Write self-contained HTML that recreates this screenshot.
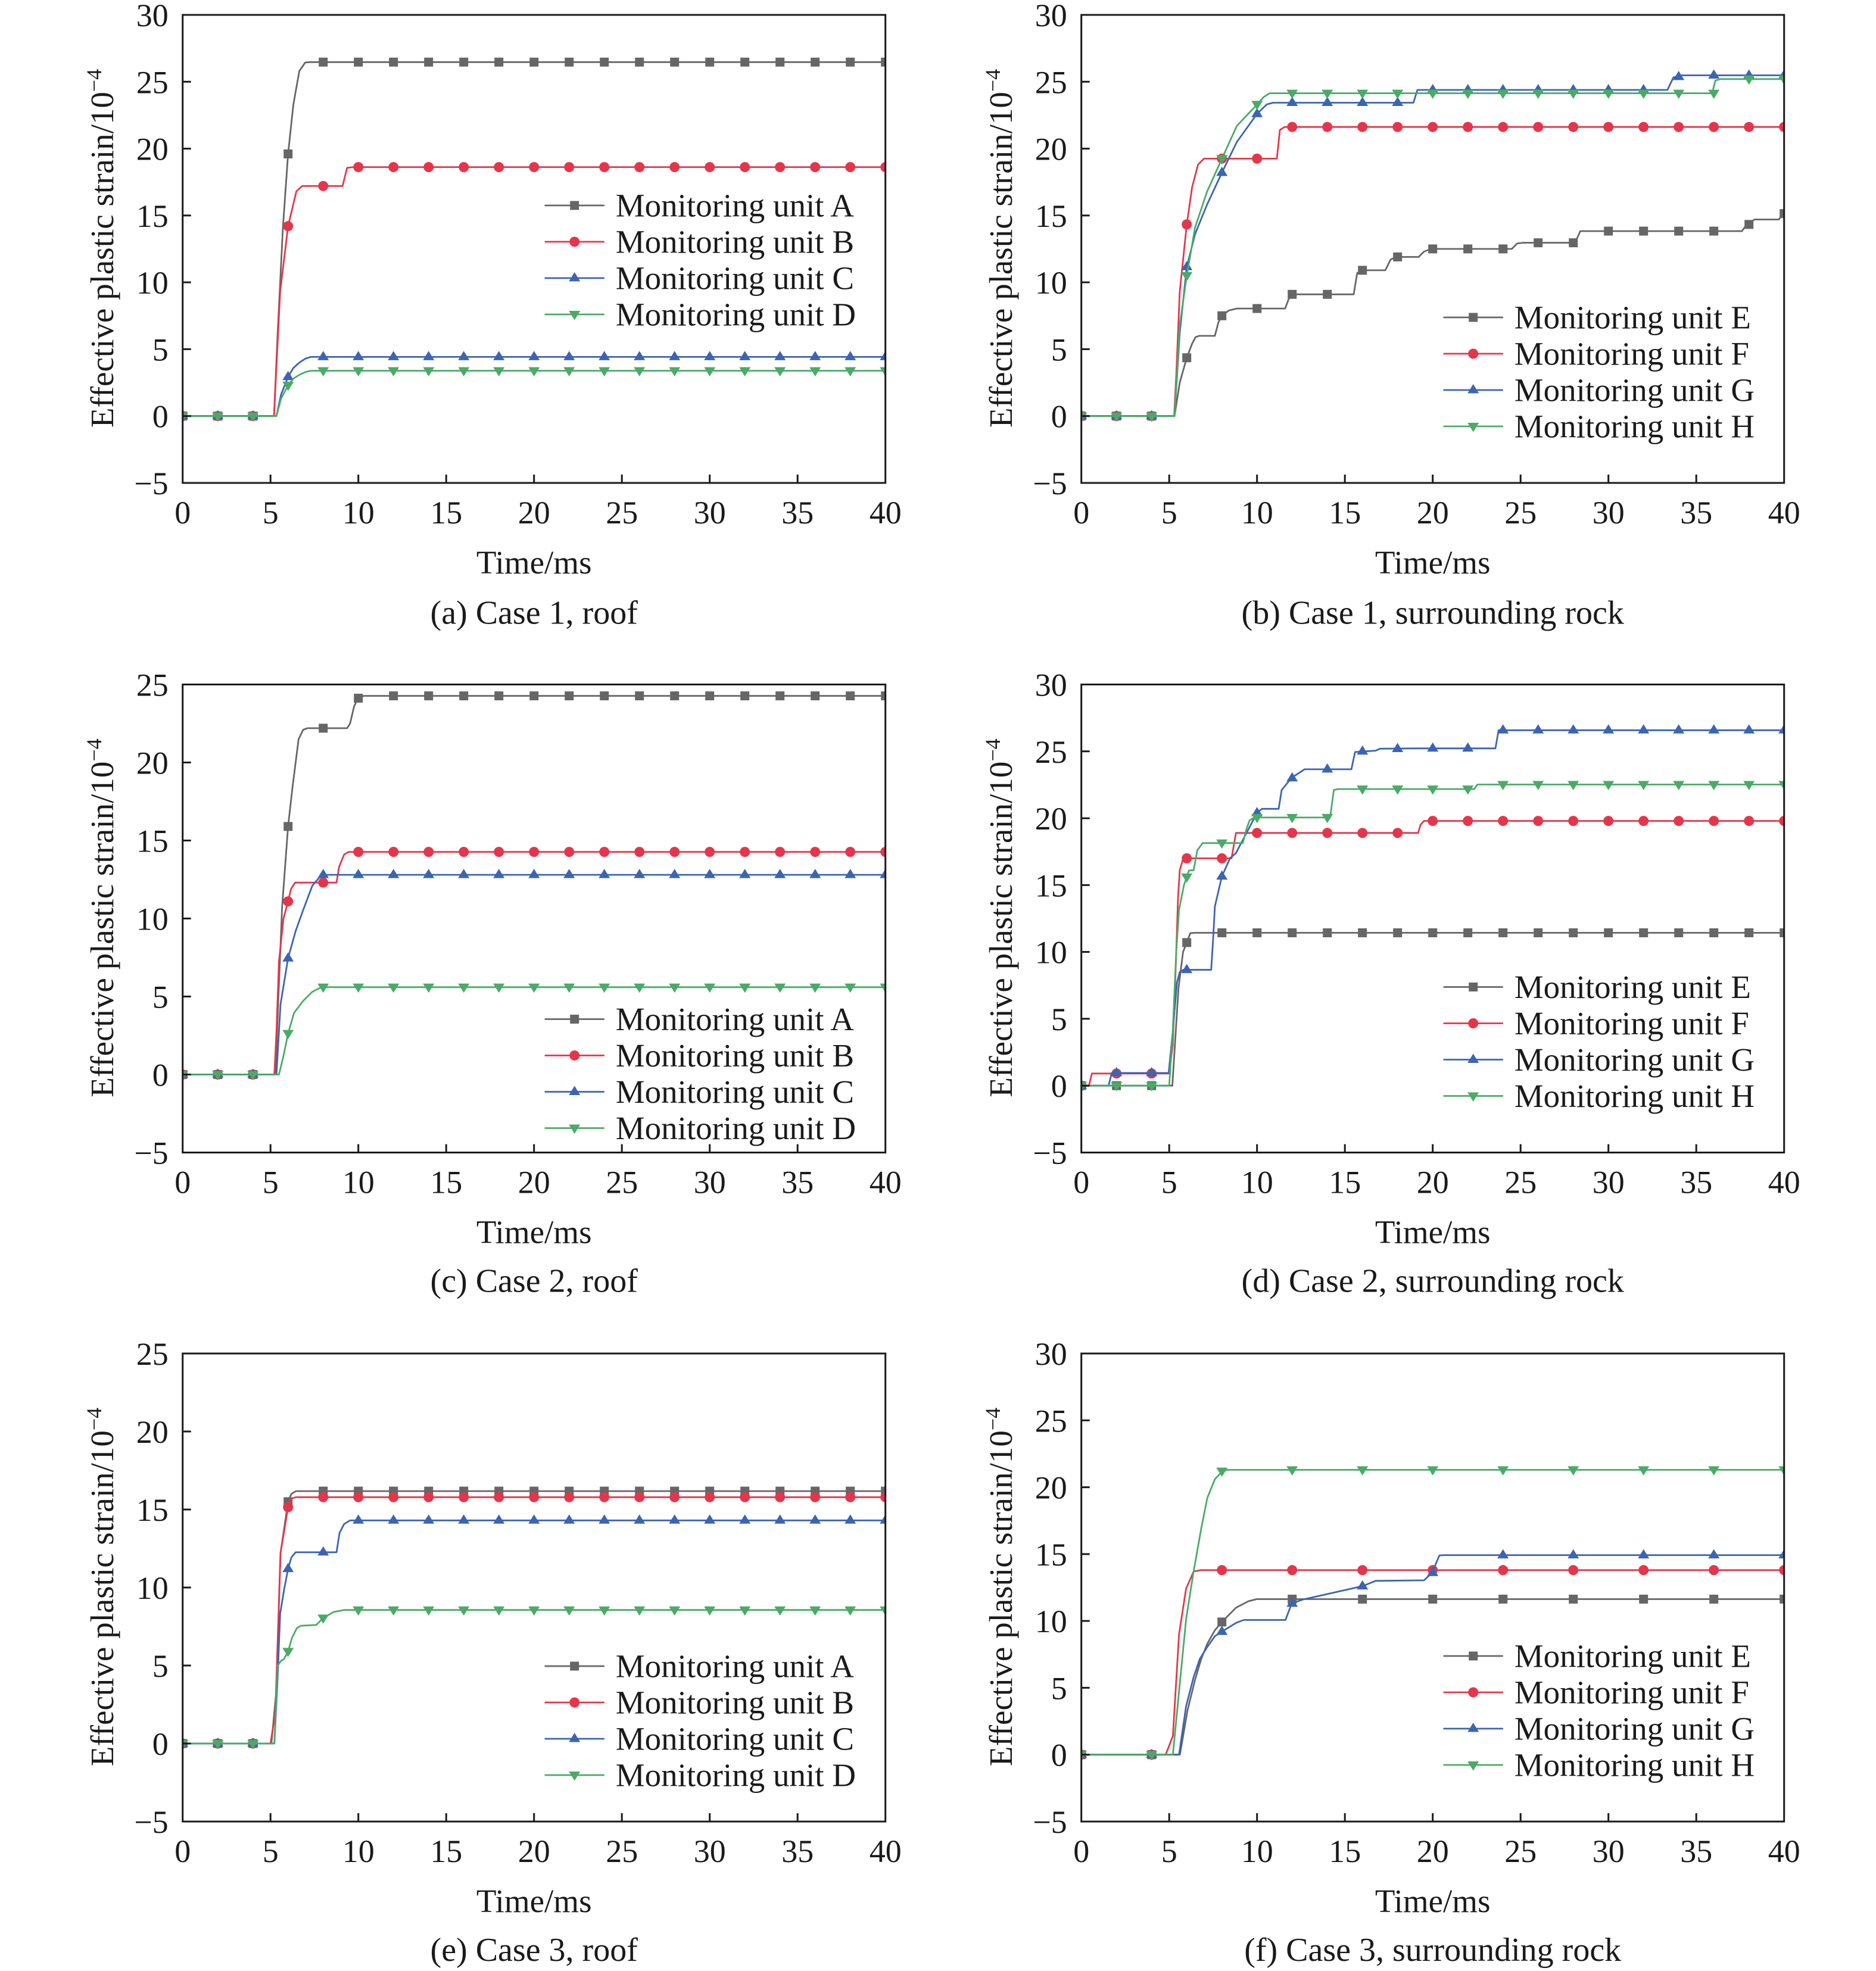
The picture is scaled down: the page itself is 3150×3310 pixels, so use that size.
<!DOCTYPE html>
<html>
<head>
<meta charset="utf-8">
<style>
  html,body{margin:0;padding:0;background:#fff;}
  svg{display:block;}
  text{font-family:"Liberation Serif","Times New Roman",serif;fill:#1a1a1a;}
  .tk{font-size:54px;}
  .yl{text-anchor:end;}
  .xl{text-anchor:middle;}
  .ttl{font-size:55px;text-anchor:middle;}
  .cap{font-size:56px;text-anchor:middle;}
  .lg{font-size:55px;}
  .ln{fill:none;stroke-width:2.8;stroke-linejoin:round;stroke-linecap:round;}
  .g{stroke:#666666;} .r{stroke:#e6354a;} .b{stroke:#3b64b4;} .gr{stroke:#4aab66;}
  .frame{fill:none;stroke:#1a1a1a;stroke-width:3;}
  .tick{fill:none;stroke:#1a1a1a;stroke-width:3;}
  .mk{fill:none;stroke:none;}
</style>
</head>
<body>
<svg width="3150" height="3310" viewBox="0 0 3150 3310" xmlns="http://www.w3.org/2000/svg">
<defs>
  <clipPath id="clip"><rect x="0" y="0" width="1180" height="786"/></clipPath>
  <marker id="mS" markerUnits="userSpaceOnUse" markerWidth="1" markerHeight="1" refX="0" refY="0" overflow="visible"><rect x="-7.5" y="-7.5" width="15" height="15" fill="#666666"/></marker>
  <marker id="mC" markerUnits="userSpaceOnUse" markerWidth="1" markerHeight="1" refX="0" refY="0" overflow="visible"><circle cx="0" cy="0" r="8.5" fill="#e6354a"/></marker>
  <marker id="mU" markerUnits="userSpaceOnUse" markerWidth="1" markerHeight="1" refX="0" refY="0" overflow="visible"><polygon points="0,-10 9.5,5.5 -9.5,5.5" fill="#3b64b4"/></marker>
  <marker id="mD" markerUnits="userSpaceOnUse" markerWidth="1" markerHeight="1" refX="0" refY="0" overflow="visible"><polygon points="-9.5,-6 9.5,-6 0,9.5" fill="#4aab66"/></marker>
</defs>

<!-- ================= Panel (a) ================= -->
<g transform="translate(306.7,25)">
  <g clip-path="url(#clip)">
    <polyline class="ln g" points="0,673.7 153.4,673.7 159.3,539 168.2,359.3 177,233.5 185.9,150.5 195.9,94.3 205.9,79.9 215.4,79.3 1180,79.3"/>
    <polyline class="mk" marker-start="url(#mS)" marker-mid="url(#mS)" marker-end="url(#mS)" points="0,673.7 59,673.7 118,673.7 177,233.5 236,79.3 295,79.3 354,79.3 413,79.3 472,79.3 531,79.3 590,79.3 649,79.3 708,79.3 767,79.3 826,79.3 885,79.3 944,79.3 1003,79.3 1062,79.3 1121,79.3 1180,79.3"/>
    <polyline class="ln r" points="0,673.7 153.4,673.7 157.8,583.9 163.7,464.9 177,354.8 190.9,296.4 200.6,287.4 268.5,287.4 276.1,256.9 286.2,255.6 1180,255.6"/>
    <polyline class="mk" marker-start="url(#mC)" marker-mid="url(#mC)" marker-end="url(#mC)" points="0,673.7 59,673.7 118,673.7 177,354.8 236,287.4 295,255.6 354,255.6 413,255.6 472,255.6 531,255.6 590,255.6 649,255.6 708,255.6 767,255.6 826,255.6 885,255.6 944,255.6 1003,255.6 1062,255.6 1121,255.6 1180,255.6"/>
    <polyline class="ln b" points="0,673.7 157.5,673.7 165.2,637.8 177,607.9 185.9,592.9 195.9,583.9 206.5,577.1 215.4,574.4 1180,574.4"/>
    <polyline class="mk" marker-start="url(#mU)" marker-mid="url(#mU)" marker-end="url(#mU)" points="0,673.7 59,673.7 118,673.7 177,607.9 236,574.4 295,574.4 354,574.4 413,574.4 472,574.4 531,574.4 590,574.4 649,574.4 708,574.4 767,574.4 826,574.4 885,574.4 944,574.4 1003,574.4 1062,574.4 1121,574.4 1180,574.4"/>
    <polyline class="ln gr" points="0,673.7 157.5,673.7 165.2,644.5 177,622 185.9,610.8 195.9,604.5 206.5,599.6 215.4,597.6 1180,597.6"/>
    <polyline class="mk" marker-start="url(#mD)" marker-mid="url(#mD)" marker-end="url(#mD)" points="0,673.7 59,673.7 118,673.7 177,622 236,597.6 295,597.6 354,597.6 413,597.6 472,597.6 531,597.6 590,597.6 649,597.6 708,597.6 767,597.6 826,597.6 885,597.6 944,597.6 1003,597.6 1062,597.6 1121,597.6 1180,597.6"/>
  </g>
  <rect class="frame" x="0" y="0" width="1180" height="786"/>
  <path class="tick" d="M0,112.3h14M0,224.6h14M0,336.9h14M0,449.1h14M0,561.4h14M0,673.7h14M147.5,786v-14M295,786v-14M442.5,786v-14M590,786v-14M737.5,786v-14M885,786v-14M1032.5,786v-14"/>
  <g class="tk yl">
    <text x="-24" y="19">30</text><text x="-24" y="131.3">25</text><text x="-24" y="243.6">20</text><text x="-24" y="355.9">15</text><text x="-24" y="468.1">10</text><text x="-24" y="580.4">5</text><text x="-24" y="692.7">0</text><text x="-24" y="805">−5</text>
  </g>
  <g class="tk xl">
    <text x="0" y="854">0</text><text x="147.5" y="854">5</text><text x="295" y="854">10</text><text x="442.5" y="854">15</text><text x="590" y="854">20</text><text x="737.5" y="854">25</text><text x="885" y="854">30</text><text x="1032.5" y="854">35</text><text x="1180" y="854">40</text>
  </g>
  <text class="ttl" x="590" y="938">Time/ms</text>
  <text class="cap" x="590" y="1022.5">(a) Case 1, roof</text>
  <text class="ttl" transform="translate(-116.7,392) rotate(-90)">Effective plastic strain/10<tspan font-size="36" dy="-20">−4</tspan></text>
  <g>
    <line x1="609" y1="320" x2="707" y2="320" class="ln g"/><rect x="650.5" y="312.5" width="15" height="15" fill="#666666"/>
    <text class="lg" x="727" y="338.5">Monitoring unit A</text>
    <line x1="609" y1="381" x2="707" y2="381" class="ln r"/><circle cx="658" cy="381" r="8.5" fill="#e6354a"/>
    <text class="lg" x="727" y="399.5">Monitoring unit B</text>
    <line x1="609" y1="442" x2="707" y2="442" class="ln b"/><polygon transform="translate(658,442)" points="0,-10 9.5,5.5 -9.5,5.5" fill="#3b64b4"/>
    <text class="lg" x="727" y="460.5">Monitoring unit C</text>
    <line x1="609" y1="503" x2="707" y2="503" class="ln gr"/><polygon transform="translate(658,503)" points="-9.5,-6 9.5,-6 0,9.5" fill="#4aab66"/>
    <text class="lg" x="727" y="521.5">Monitoring unit D</text>
  </g>
</g>

<!-- ================= Panel (b) ================= -->
<g transform="translate(1815.7,25)">
  <g clip-path="url(#clip)">
    <polyline class="ln g" points="0,673.7 156.4,673.7 165.2,617.6 177,575.8 185.9,552.4 191.8,541.2 197.7,539 224.2,539 230.1,516.5 236,505.3 247.8,496.3 261.1,493.1 342.2,493.1 351.1,469.3 457.3,469.3 463.2,433.4 472,428.9 510.4,428.9 519.2,411 528.1,406.5 566.4,406.5 575.3,397.5 587.1,393 722.8,393 731.6,384 740.5,382.7 829,382.7 837.8,363.1 1109.2,363.1 1115.1,354.8 1121,351.9 1129.9,343.6 1171.2,343.6 1177.1,334.6 1180,333.7"/>
    <polyline class="mk" marker-start="url(#mS)" marker-mid="url(#mS)" marker-end="url(#mS)" points="0,673.7 59,673.7 118,673.7 177,575.8 236,505.3 295,493.1 354,469.3 413,469.3 472,428.9 531,406.5 590,393 649,393 708,393 767,382.7 826,382.7 885,363.1 944,363.1 1003,363.1 1062,363.1 1121,351.9 1180,333.7"/>
    <polyline class="ln r" points="0,673.7 155.8,673.7 159.3,606.3 165.2,464.9 177,351.9 185.9,289.7 195.9,251.5 205.9,241.4 328.3,241.4 333.4,193.1 341.3,188.2 1180,188.2"/>
    <polyline class="mk" marker-start="url(#mC)" marker-mid="url(#mC)" marker-end="url(#mC)" points="0,673.7 59,673.7 118,673.7 177,351.9 236,241.4 295,241.4 354,188.2 413,188.2 472,188.2 531,188.2 590,188.2 649,188.2 708,188.2 767,188.2 826,188.2 885,188.2 944,188.2 1003,188.2 1062,188.2 1121,188.2 1180,188.2"/>
    <polyline class="ln b" points="0,673.7 156.4,673.7 165.2,534.5 177,423.3 190.9,368.3 210.9,318.9 236,265 261.1,213.3 295,166.2 311.2,150.4 321.6,147.5 557.6,147.5 564.3,126 984.1,126 994.2,104.9 1008.9,101.5 1180,101.5"/>
    <polyline class="mk" marker-start="url(#mU)" marker-mid="url(#mU)" marker-end="url(#mU)" points="0,673.7 59,673.7 118,673.7 177,423.3 236,265 295,166.2 354,147.5 413,147.5 472,147.5 531,147.5 590,126 649,126 708,126 767,126 826,126 885,126 944,126 1003,104 1062,101.5 1121,101.5 1180,101.5"/>
    <polyline class="ln gr" points="0,673.7 156.4,673.7 165.2,521 177,437.9 190.9,357.1 210.9,297.3 236,241.4 261.1,186.4 295,150.4 306.2,137.9 316.2,131.6 1059.1,131.6 1064.7,110 1073.8,107.8 1180,107.8"/>
    <polyline class="mk" marker-start="url(#mD)" marker-mid="url(#mD)" marker-end="url(#mD)" points="0,673.7 59,673.7 118,673.7 177,437.9 236,241.4 295,150.4 354,131.6 413,131.6 472,131.6 531,131.6 590,131.6 649,131.6 708,131.6 767,131.6 826,131.6 885,131.6 944,131.6 1003,131.6 1062,131.6 1121,107.8 1180,107.8"/>
  </g>
  <rect class="frame" x="0" y="0" width="1180" height="786"/>
  <path class="tick" d="M0,112.3h14M0,224.6h14M0,336.9h14M0,449.1h14M0,561.4h14M0,673.7h14M147.5,786v-14M295,786v-14M442.5,786v-14M590,786v-14M737.5,786v-14M885,786v-14M1032.5,786v-14"/>
  <g class="tk yl">
    <text x="-24" y="19">30</text><text x="-24" y="131.3">25</text><text x="-24" y="243.6">20</text><text x="-24" y="355.9">15</text><text x="-24" y="468.1">10</text><text x="-24" y="580.4">5</text><text x="-24" y="692.7">0</text><text x="-24" y="805">−5</text>
  </g>
  <g class="tk xl">
    <text x="0" y="854">0</text><text x="147.5" y="854">5</text><text x="295" y="854">10</text><text x="442.5" y="854">15</text><text x="590" y="854">20</text><text x="737.5" y="854">25</text><text x="885" y="854">30</text><text x="1032.5" y="854">35</text><text x="1180" y="854">40</text>
  </g>
  <text class="ttl" x="590" y="938">Time/ms</text>
  <text class="cap" x="590" y="1022.5">(b) Case 1, surrounding rock</text>
  <text class="ttl" transform="translate(-116.7,392) rotate(-90)">Effective plastic strain/10<tspan font-size="36" dy="-20">−4</tspan></text>
  <g>
    <line x1="609" y1="508" x2="707" y2="508" class="ln g"/><rect x="650.5" y="500.5" width="15" height="15" fill="#666666"/>
    <text class="lg" x="727" y="526.5">Monitoring unit E</text>
    <line x1="609" y1="569" x2="707" y2="569" class="ln r"/><circle cx="658" cy="569" r="8.5" fill="#e6354a"/>
    <text class="lg" x="727" y="587.5">Monitoring unit F</text>
    <line x1="609" y1="630" x2="707" y2="630" class="ln b"/><polygon transform="translate(658,630)" points="0,-10 9.5,5.5 -9.5,5.5" fill="#3b64b4"/>
    <text class="lg" x="727" y="648.5">Monitoring unit G</text>
    <line x1="609" y1="691" x2="707" y2="691" class="ln gr"/><polygon transform="translate(658,691)" points="-9.5,-6 9.5,-6 0,9.5" fill="#4aab66"/>
    <text class="lg" x="727" y="709.5">Monitoring unit H</text>
  </g>
</g>

<!-- ================= Panel (c) ================= -->
<g transform="translate(306.7,1149.5)">
  <g clip-path="url(#clip)">
    <polyline class="ln g" points="0,655 155.8,655 160.8,524 167,373.4 177,238.4 184.7,170.3 194.7,91.7 202.4,76 209.5,73.4 276.1,73.4 281.1,65.5 287.9,36.7 294.1,23.6 304.1,19.1 1180,19.1"/>
    <polyline class="mk" marker-start="url(#mS)" marker-mid="url(#mS)" marker-end="url(#mS)" points="0,655 59,655 118,655 177,238.4 236,73.4 295,23 354,19.1 413,19.1 472,19.1 531,19.1 590,19.1 649,19.1 708,19.1 767,19.1 826,19.1 885,19.1 944,19.1 1003,19.1 1062,19.1 1121,19.1 1180,19.1"/>
    <polyline class="ln r" points="0,655 154,655 157.8,576.4 161.7,465.1 169.3,393 177,364.2 182,343.2 188.8,332.7 258.4,332.7 262.6,306.5 271.1,285.6 278.8,281.1 1180,281.1"/>
    <polyline class="mk" marker-start="url(#mC)" marker-mid="url(#mC)" marker-end="url(#mC)" points="0,655 59,655 118,655 177,364.2 236,332.7 295,281.1 354,281.1 413,281.1 472,281.1 531,281.1 590,281.1 649,281.1 708,281.1 767,281.1 826,281.1 885,281.1 944,281.1 1003,281.1 1062,281.1 1121,281.1 1180,281.1"/>
    <polyline class="ln b" points="0,655 157.5,655 164.3,537.1 177,459.8 189.7,414 202.4,378.6 217.7,338 233.1,319.6 1180,319.6"/>
    <polyline class="mk" marker-start="url(#mU)" marker-mid="url(#mU)" marker-end="url(#mU)" points="0,655 59,655 118,655 177,459.8 236,319.6 295,319.6 354,319.6 413,319.6 472,319.6 531,319.6 590,319.6 649,319.6 708,319.6 767,319.6 826,319.6 885,319.6 944,319.6 1003,319.6 1062,319.6 1121,319.6 1180,319.6"/>
    <polyline class="ln gr" points="0,655 161.7,655 169.3,623.6 177,586.1 187,551.5 202.4,531.3 217.7,516.1 233.1,508.3 1180,508.3"/>
    <polyline class="mk" marker-start="url(#mD)" marker-mid="url(#mD)" marker-end="url(#mD)" points="0,655 59,655 118,655 177,586.1 236,508.3 295,508.3 354,508.3 413,508.3 472,508.3 531,508.3 590,508.3 649,508.3 708,508.3 767,508.3 826,508.3 885,508.3 944,508.3 1003,508.3 1062,508.3 1121,508.3 1180,508.3"/>
  </g>
  <rect class="frame" x="0" y="0" width="1180" height="786"/>
  <path class="tick" d="M0,131h14M0,262h14M0,393h14M0,524h14M0,655h14M147.5,786v-14M295,786v-14M442.5,786v-14M590,786v-14M737.5,786v-14M885,786v-14M1032.5,786v-14"/>
  <g class="tk yl">
    <text x="-24" y="19">25</text><text x="-24" y="150">20</text><text x="-24" y="281">15</text><text x="-24" y="412">10</text><text x="-24" y="543">5</text><text x="-24" y="674">0</text><text x="-24" y="805">−5</text>
  </g>
  <g class="tk xl">
    <text x="0" y="854">0</text><text x="147.5" y="854">5</text><text x="295" y="854">10</text><text x="442.5" y="854">15</text><text x="590" y="854">20</text><text x="737.5" y="854">25</text><text x="885" y="854">30</text><text x="1032.5" y="854">35</text><text x="1180" y="854">40</text>
  </g>
  <text class="ttl" x="590" y="938">Time/ms</text>
  <text class="cap" x="590" y="1020">(c) Case 2, roof</text>
  <text class="ttl" transform="translate(-116.7,392) rotate(-90)">Effective plastic strain/10<tspan font-size="36" dy="-20">−4</tspan></text>
  <g>
    <line x1="609" y1="562" x2="707" y2="562" class="ln g"/><rect x="650.5" y="554.5" width="15" height="15" fill="#666666"/>
    <text class="lg" x="727" y="580.5">Monitoring unit A</text>
    <line x1="609" y1="623" x2="707" y2="623" class="ln r"/><circle cx="658" cy="623" r="8.5" fill="#e6354a"/>
    <text class="lg" x="727" y="641.5">Monitoring unit B</text>
    <line x1="609" y1="684" x2="707" y2="684" class="ln b"/><polygon transform="translate(658,684)" points="0,-10 9.5,5.5 -9.5,5.5" fill="#3b64b4"/>
    <text class="lg" x="727" y="702.5">Monitoring unit C</text>
    <line x1="609" y1="745" x2="707" y2="745" class="ln gr"/><polygon transform="translate(658,745)" points="-9.5,-6 9.5,-6 0,9.5" fill="#4aab66"/>
    <text class="lg" x="727" y="763.5">Monitoring unit D</text>
  </g>
</g>

<!-- ================= Panel (d) ================= -->
<g transform="translate(1815.7,1149.5)">
  <g clip-path="url(#clip)">
    <polyline class="ln g" points="0,673.7 152.8,673.7 163.1,509.8 170.8,449.1 177,433.4 182.9,417.7 188.8,417 1180,417"/>
    <polyline class="mk" marker-start="url(#mS)" marker-mid="url(#mS)" marker-end="url(#mS)" points="0,673.7 59,673.7 118,673.7 177,433.4 236,417 295,417 354,417 413,417 472,417 531,417 590,417 649,417 708,417 767,417 826,417 885,417 944,417 1003,417 1062,417 1121,417 1180,417"/>
    <polyline class="ln r" points="0,673.7 12.7,673.7 17.7,653.3 147.5,653.3 153.4,606.3 157.8,494 162.3,359.3 165.2,312.1 171.1,291.9 252.2,291.9 259.6,249.3 565.5,249.3 569.4,235.8 575.3,229.1 1180,229.1"/>
    <polyline class="mk" marker-start="url(#mC)" marker-mid="url(#mC)" marker-end="url(#mC)" points="0,673.7 59,653.3 118,653.3 177,291.9 236,291.9 295,249.3 354,249.3 413,249.3 472,249.3 531,249.3 590,229.1 649,229.1 708,229.1 767,229.1 826,229.1 885,229.1 944,229.1 1003,229.1 1062,229.1 1121,229.1 1180,229.1"/>
    <polyline class="ln b" points="0,673.7 45.7,673.7 51,652.4 146.6,652.4 153.4,583.9 160.5,500.8 165.2,482.8 171.1,479.2 218,479.2 221.3,426.7 224.2,372.8 236,322.2 249.6,291.9 259.6,283 295,215.6 303.3,208.8 331.3,208.8 336.3,177.4 352.5,157.2 374.7,142.4 453.4,142.4 459.6,113.4 494.1,111.1 501.5,107.8 560.5,107.3 695.3,107.3 700.6,76.8 1180,76.8"/>
    <polyline class="mk" marker-start="url(#mU)" marker-mid="url(#mU)" marker-end="url(#mU)" points="0,673.7 59,652.4 118,652.4 177,479.2 236,322.2 295,215.6 354,157.2 413,142.4 472,112.3 531,108 590,107.3 649,107.3 708,76.8 767,76.8 826,76.8 885,76.8 944,76.8 1003,76.8 1062,76.8 1121,76.8 1180,76.8"/>
    <polyline class="ln gr" points="0,673.7 147.5,673.7 153.4,583.9 159.3,449.1 164,378.4 172.3,336.8 177,323.4 180.8,312.1 188.5,312.1 194.7,278.5 203.6,266.3 271.1,266.3 277.3,242.5 282.6,228 290.3,223.4 417.7,223.4 423.9,177.4 430.7,175.6 659.9,175.6 664.9,168 1180,168"/>
    <polyline class="mk" marker-start="url(#mD)" marker-mid="url(#mD)" marker-end="url(#mD)" points="0,673.7 59,673.7 118,673.7 177,323.4 236,266.3 295,223.4 354,223.4 413,223.4 472,175.6 531,175.6 590,175.6 649,175.6 708,168 767,168 826,168 885,168 944,168 1003,168 1062,168 1121,168 1180,168"/>
  </g>
  <rect class="frame" x="0" y="0" width="1180" height="786"/>
  <path class="tick" d="M0,112.3h14M0,224.6h14M0,336.9h14M0,449.1h14M0,561.4h14M0,673.7h14M147.5,786v-14M295,786v-14M442.5,786v-14M590,786v-14M737.5,786v-14M885,786v-14M1032.5,786v-14"/>
  <g class="tk yl">
    <text x="-24" y="19">30</text><text x="-24" y="131.3">25</text><text x="-24" y="243.6">20</text><text x="-24" y="355.9">15</text><text x="-24" y="468.1">10</text><text x="-24" y="580.4">5</text><text x="-24" y="692.7">0</text><text x="-24" y="805">−5</text>
  </g>
  <g class="tk xl">
    <text x="0" y="854">0</text><text x="147.5" y="854">5</text><text x="295" y="854">10</text><text x="442.5" y="854">15</text><text x="590" y="854">20</text><text x="737.5" y="854">25</text><text x="885" y="854">30</text><text x="1032.5" y="854">35</text><text x="1180" y="854">40</text>
  </g>
  <text class="ttl" x="590" y="938">Time/ms</text>
  <text class="cap" x="590" y="1020">(d) Case 2, surrounding rock</text>
  <text class="ttl" transform="translate(-116.7,392) rotate(-90)">Effective plastic strain/10<tspan font-size="36" dy="-20">−4</tspan></text>
  <g>
    <line x1="609" y1="508" x2="707" y2="508" class="ln g"/><rect x="650.5" y="500.5" width="15" height="15" fill="#666666"/>
    <text class="lg" x="727" y="526.5">Monitoring unit E</text>
    <line x1="609" y1="569" x2="707" y2="569" class="ln r"/><circle cx="658" cy="569" r="8.5" fill="#e6354a"/>
    <text class="lg" x="727" y="587.5">Monitoring unit F</text>
    <line x1="609" y1="630" x2="707" y2="630" class="ln b"/><polygon transform="translate(658,630)" points="0,-10 9.5,5.5 -9.5,5.5" fill="#3b64b4"/>
    <text class="lg" x="727" y="648.5">Monitoring unit G</text>
    <line x1="609" y1="691" x2="707" y2="691" class="ln gr"/><polygon transform="translate(658,691)" points="-9.5,-6 9.5,-6 0,9.5" fill="#4aab66"/>
    <text class="lg" x="727" y="709.5">Monitoring unit H</text>
  </g>
</g>

<!-- ================= Panel (e) ================= -->
<g transform="translate(306.7,2273)">
  <g clip-path="url(#clip)">
    <polyline class="ln g" points="0,655 149,655 156.6,573.8 164.3,335.4 177,248.9 182.6,235.8 190.3,231.1 1180,231.1"/>
    <polyline class="mk" marker-start="url(#mS)" marker-mid="url(#mS)" marker-end="url(#mS)" points="0,655 59,655 118,655 177,248.9 236,231.1 295,231.1 354,231.1 413,231.1 472,231.1 531,231.1 590,231.1 649,231.1 708,231.1 767,231.1 826,231.1 885,231.1 944,231.1 1003,231.1 1062,231.1 1121,231.1 1180,231.1"/>
    <polyline class="ln r" points="0,655 147.5,655 156.1,600 164.3,335.4 177,258.1 182.6,243.7 190.3,241.3 1180,241.3"/>
    <polyline class="mk" marker-start="url(#mC)" marker-mid="url(#mC)" marker-end="url(#mC)" points="0,655 59,655 118,655 177,258.1 236,241.3 295,241.3 354,241.3 413,241.3 472,241.3 531,241.3 590,241.3 649,241.3 708,241.3 767,241.3 826,241.3 885,241.3 944,241.3 1003,241.3 1062,241.3 1121,241.3 1180,241.3"/>
    <polyline class="ln b" points="0,655 154,655 159.3,548.9 163.7,436.8 170.5,395.6 177,361.6 182.6,342.4 189.7,333.8 258.4,333.8 263.4,301.3 271.1,286.4 281.1,280.3 1180,280.3"/>
    <polyline class="mk" marker-start="url(#mU)" marker-mid="url(#mU)" marker-end="url(#mU)" points="0,655 59,655 118,655 177,361.6 236,333.8 295,280.3 354,280.3 413,280.3 472,280.3 531,280.3 590,280.3 649,280.3 708,280.3 767,280.3 826,280.3 885,280.3 944,280.3 1003,280.3 1062,280.3 1121,280.3 1180,280.3"/>
    <polyline class="ln gr" points="0,655 154,655 159.6,524 165.2,516.1 169.9,513.3 177,500.4 183.5,477.6 191.8,461.1 198.8,457.2 224.2,455.9 236,444.4 253.4,434.1 271.1,430.7 1180,430.7"/>
    <polyline class="mk" marker-start="url(#mD)" marker-mid="url(#mD)" marker-end="url(#mD)" points="0,655 59,655 118,655 177,500.4 236,444.4 295,430.7 354,430.7 413,430.7 472,430.7 531,430.7 590,430.7 649,430.7 708,430.7 767,430.7 826,430.7 885,430.7 944,430.7 1003,430.7 1062,430.7 1121,430.7 1180,430.7"/>
  </g>
  <rect class="frame" x="0" y="0" width="1180" height="786"/>
  <path class="tick" d="M0,131h14M0,262h14M0,393h14M0,524h14M0,655h14M147.5,786v-14M295,786v-14M442.5,786v-14M590,786v-14M737.5,786v-14M885,786v-14M1032.5,786v-14"/>
  <g class="tk yl">
    <text x="-24" y="19">25</text><text x="-24" y="150">20</text><text x="-24" y="281">15</text><text x="-24" y="412">10</text><text x="-24" y="543">5</text><text x="-24" y="674">0</text><text x="-24" y="805">−5</text>
  </g>
  <g class="tk xl">
    <text x="0" y="854">0</text><text x="147.5" y="854">5</text><text x="295" y="854">10</text><text x="442.5" y="854">15</text><text x="590" y="854">20</text><text x="737.5" y="854">25</text><text x="885" y="854">30</text><text x="1032.5" y="854">35</text><text x="1180" y="854">40</text>
  </g>
  <text class="ttl" x="590" y="938">Time/ms</text>
  <text class="cap" x="590" y="1020">(e) Case 3, roof</text>
  <text class="ttl" transform="translate(-116.7,392) rotate(-90)">Effective plastic strain/10<tspan font-size="36" dy="-20">−4</tspan></text>
  <g>
    <line x1="609" y1="525" x2="707" y2="525" class="ln g"/><rect x="650.5" y="517.5" width="15" height="15" fill="#666666"/>
    <text class="lg" x="727" y="543.5">Monitoring unit A</text>
    <line x1="609" y1="586" x2="707" y2="586" class="ln r"/><circle cx="658" cy="586" r="8.5" fill="#e6354a"/>
    <text class="lg" x="727" y="604.5">Monitoring unit B</text>
    <line x1="609" y1="647" x2="707" y2="647" class="ln b"/><polygon transform="translate(658,647)" points="0,-10 9.5,5.5 -9.5,5.5" fill="#3b64b4"/>
    <text class="lg" x="727" y="665.5">Monitoring unit C</text>
    <line x1="609" y1="708" x2="707" y2="708" class="ln gr"/><polygon transform="translate(658,708)" points="-9.5,-6 9.5,-6 0,9.5" fill="#4aab66"/>
    <text class="lg" x="727" y="726.5">Monitoring unit D</text>
  </g>
</g>

<!-- ================= Panel (f) ================= -->
<g transform="translate(1815.7,2273)">
  <g clip-path="url(#clip)">
    <polyline class="ln g" points="0,673.7 165.5,673.7 178.2,599.6 190.9,547.9 201.2,513.1 211.5,487.3 224.2,464.8 236,450.9 259.9,426.7 280.3,416.1 294.4,412.5 1180,412.5"/>
    <polyline class="mk" marker-start="url(#mS)" marker-mid="url(#mS)" marker-end="url(#mS)" points="0,673.7 118,673.7 236,450.9 354,412.5 472,412.5 590,412.5 708,412.5 826,412.5 944,412.5 1062,412.5 1180,412.5"/>
    <polyline class="ln r" points="0,673.7 141.6,673.7 153.7,642.3 164,471.6 175.8,395.2 188.5,366 201.2,363.8 1180,363.8"/>
    <polyline class="mk" marker-start="url(#mC)" marker-mid="url(#mC)" marker-end="url(#mC)" points="0,673.7 118,673.7 236,363.8 354,363.8 472,363.8 590,363.8 708,363.8 826,363.8 944,363.8 1062,363.8 1180,363.8"/>
    <polyline class="ln b" points="0,673.7 164,673.7 175.8,592.9 188.5,543.4 198.8,513.1 211.5,492.7 224.2,474.7 236,467.1 259.9,452.3 272.6,447.5 342.8,447.5 353.1,419.9 371.7,413.2 472,390.7 494.1,381.8 575.5,380.9 588.8,368.3 601.2,339.1 607.7,338.6 1180,338.6"/>
    <polyline class="mk" marker-start="url(#mU)" marker-mid="url(#mU)" marker-end="url(#mU)" points="0,673.7 118,673.7 236,467.1 354,419.9 472,390.7 590,368.3 708,338.6 826,338.6 944,338.6 1062,338.6 1180,338.6"/>
    <polyline class="ln gr" points="0,673.7 153.7,673.7 175.8,446.9 188.5,366 201.2,294.2 211.5,242.5 224.2,211.1 236.9,197.6 244.9,195.4 1180,195.4"/>
    <polyline class="mk" marker-start="url(#mD)" marker-mid="url(#mD)" marker-end="url(#mD)" points="0,673.7 118,673.7 236,197.6 354,195.4 472,195.4 590,195.4 708,195.4 826,195.4 944,195.4 1062,195.4 1180,195.4"/>
  </g>
  <rect class="frame" x="0" y="0" width="1180" height="786"/>
  <path class="tick" d="M0,112.3h14M0,224.6h14M0,336.9h14M0,449.1h14M0,561.4h14M0,673.7h14M147.5,786v-14M295,786v-14M442.5,786v-14M590,786v-14M737.5,786v-14M885,786v-14M1032.5,786v-14"/>
  <g class="tk yl">
    <text x="-24" y="19">30</text><text x="-24" y="131.3">25</text><text x="-24" y="243.6">20</text><text x="-24" y="355.9">15</text><text x="-24" y="468.1">10</text><text x="-24" y="580.4">5</text><text x="-24" y="692.7">0</text><text x="-24" y="805">−5</text>
  </g>
  <g class="tk xl">
    <text x="0" y="854">0</text><text x="147.5" y="854">5</text><text x="295" y="854">10</text><text x="442.5" y="854">15</text><text x="590" y="854">20</text><text x="737.5" y="854">25</text><text x="885" y="854">30</text><text x="1032.5" y="854">35</text><text x="1180" y="854">40</text>
  </g>
  <text class="ttl" x="590" y="938">Time/ms</text>
  <text class="cap" x="590" y="1020">(f) Case 3, surrounding rock</text>
  <text class="ttl" transform="translate(-116.7,392) rotate(-90)">Effective plastic strain/10<tspan font-size="36" dy="-20">−4</tspan></text>
  <g>
    <line x1="609" y1="508" x2="707" y2="508" class="ln g"/><rect x="650.5" y="500.5" width="15" height="15" fill="#666666"/>
    <text class="lg" x="727" y="526.5">Monitoring unit E</text>
    <line x1="609" y1="569" x2="707" y2="569" class="ln r"/><circle cx="658" cy="569" r="8.5" fill="#e6354a"/>
    <text class="lg" x="727" y="587.5">Monitoring unit F</text>
    <line x1="609" y1="630" x2="707" y2="630" class="ln b"/><polygon transform="translate(658,630)" points="0,-10 9.5,5.5 -9.5,5.5" fill="#3b64b4"/>
    <text class="lg" x="727" y="648.5">Monitoring unit G</text>
    <line x1="609" y1="691" x2="707" y2="691" class="ln gr"/><polygon transform="translate(658,691)" points="-9.5,-6 9.5,-6 0,9.5" fill="#4aab66"/>
    <text class="lg" x="727" y="709.5">Monitoring unit H</text>
  </g>
</g>
</svg>
</body>
</html>
